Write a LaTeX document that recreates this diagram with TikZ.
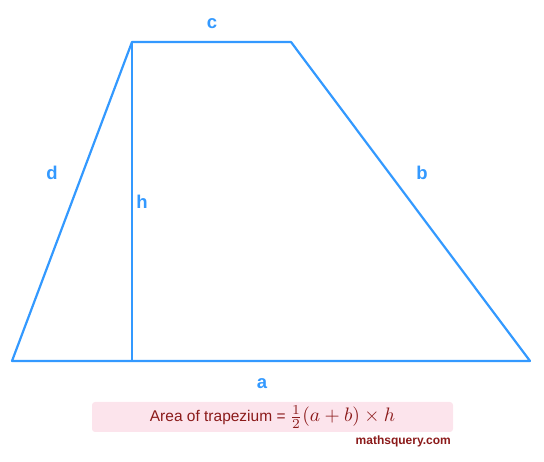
\documentclass[tikz,border=0pt]{standalone}
\usepackage{graphicx}
\usepackage{fontspec}
\setmainfont{Liberation Sans}
\definecolor{lineblue}{RGB}{51,153,255}
\definecolor{boxpink}{RGB}{252,228,236}
\definecolor{maroon}{RGB}{139,26,26}
\newcommand{\bigmath}[1]{\scalebox{1.95}{\fontsize{10}{12}\selectfont$#1$}}
\begin{document}
\begin{tikzpicture}[x=1pt,y=-1pt,
  edge/.style={draw=lineblue,line width=2.2pt,line join=round},
  lbl/.style={text=lineblue,font=\fontsize{18.5}{22}\selectfont\bfseries,inner sep=0pt}]
\useasboundingbox (0,0) rectangle (544,462);
\coordinate (A) at (12,361);
\coordinate (B) at (530,361);
\coordinate (C) at (291,42);
\coordinate (D) at (132,42);
\coordinate (H) at (132,361);
\draw[edge] (A) -- (B) -- (C) -- (D) -- cycle;
\draw[edge] (D) -- (H);
\node[lbl] (lc) at (212,24) {c};
\node[lbl] (ld) at (52,173) {d};
\node[lbl] (lb) at (422,173) {b};
\node[lbl] (lh) at (142,202) {h};
\node[lbl] (la) at (262,384) {a};
\node[fill=boxpink,rounded corners=3pt,minimum width=361pt,minimum height=30pt,inner sep=0pt,
  text=maroon,font=\fontsize{15.5}{18}\selectfont] (area) at (272.5,417)
  {Area of trapezium = \bigmath{\frac{1}{2}(a+b)\times h}};
\node[text=maroon,font=\fontsize{12}{14}\selectfont\bfseries,anchor=east,inner sep=0pt] (wm) at (451,441) {mathsquery.com};
\end{tikzpicture}
\end{document}
